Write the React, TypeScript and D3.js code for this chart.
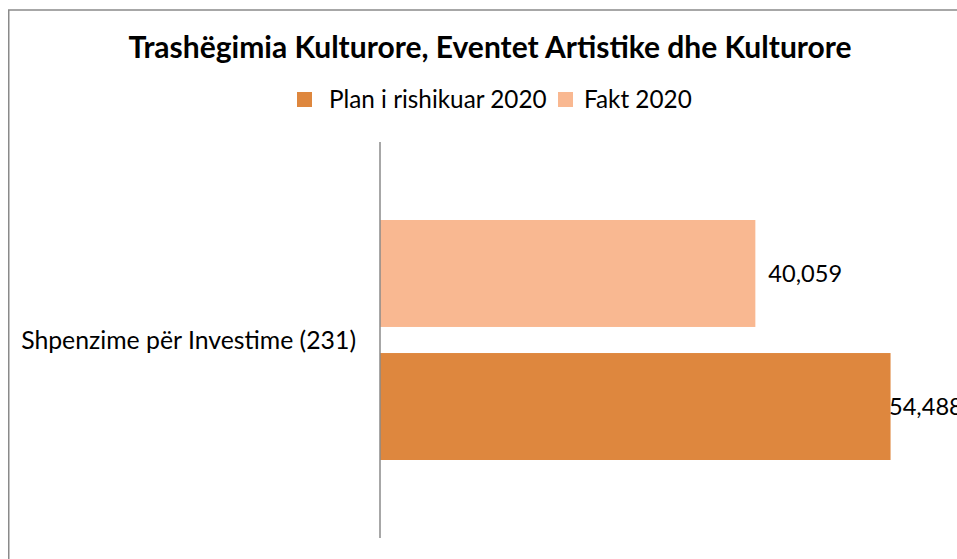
import React from "react";
import * as d3 from "d3";

const title = "Trashëgimia Kulturore, Eventet Artistike dhe Kulturore";
const categories = ["Shpenzime për Investime (231)"];
const seriesNames = ["Plan i rishikuar 2020", "Fakt 2020"];
const planValues = [54488];
const faktValues = [40059];
const colors = ["#DE873E", "#F9B891"];

const W = 957;
const H = 559;
const FONT = "Lato, 'Open Sans', sans-serif";

export default function App() {
  const x = d3.scaleLinear().domain([0, 60000]).range([380, 380 + 562.2]);
  const y = d3.scaleBand().domain(categories).range([142, 538]).padding(0);
  const inner = d3
    .scaleBand()
    .domain(["Fakt 2020", "Plan i rishikuar 2020"])
    .range([78, 396 - 78])
    .paddingInner(0.196);
  const plotRight = 957;
  const fmt = d3.format(",");
  const series = [
    { name: seriesNames[0], values: planValues, color: colors[0] },
    { name: seriesNames[1], values: faktValues, color: colors[1] },
  ];
  const labelW = 68;

  return (
    <svg
      width={W}
      height={H}
      style={{ position: "absolute", left: 0, top: 0, background: "#fff" }}
      fontFamily={FONT}
    >
      <rect x={8.75} y={10} width={1200} height={900} fill="#fff" stroke="#8a8a8a" strokeWidth={1.5} />
      <text x={490} y={58} textAnchor="middle" fontSize={30} fontWeight="bold" fill="#000">
        {title}
      </text>
      {/* legend */}
      <rect x={297} y={92} width={15} height={15} fill={colors[0]} />
      <text x={329} y={107.5} fontSize={24.3} fill="#000">{seriesNames[0]}</text>
      <rect x={558} y={92} width={15} height={15} fill={colors[1]} />
      <text x={584} y={107.5} fontSize={24.3} fill="#000">{seriesNames[1]}</text>

      {categories.map((c, i) => (
        <g key={c}>
          {series.map((s) => {
            const y0 = (y(c) as number) + (inner(s.name) as number);
            const bw = inner.bandwidth();
            const xe = x(s.values[i]);
            const lx = Math.min(xe + 13, plotRight - labelW);
            return (
              <g key={s.name}>
                <rect x={x(0)} y={y0} width={xe - x(0)} height={bw} fill={s.color} />
                <text x={lx} y={y0 + bw / 2} dy="0.35em" fontSize={23.6} fill="#000">
                  {fmt(s.values[i])}
                </text>
              </g>
            );
          })}
          <text
            x={356}
            y={(y(c) as number) + y.bandwidth() / 2}
            dy="0.35em"
            textAnchor="end"
            fontSize={24.8}
            fill="#000"
          >
            {c}
          </text>
        </g>
      ))}
      <line x1={x(0)} x2={x(0)} y1={142} y2={538} stroke="#8a8a8a" strokeWidth={1.5} />
    </svg>
  );
}
